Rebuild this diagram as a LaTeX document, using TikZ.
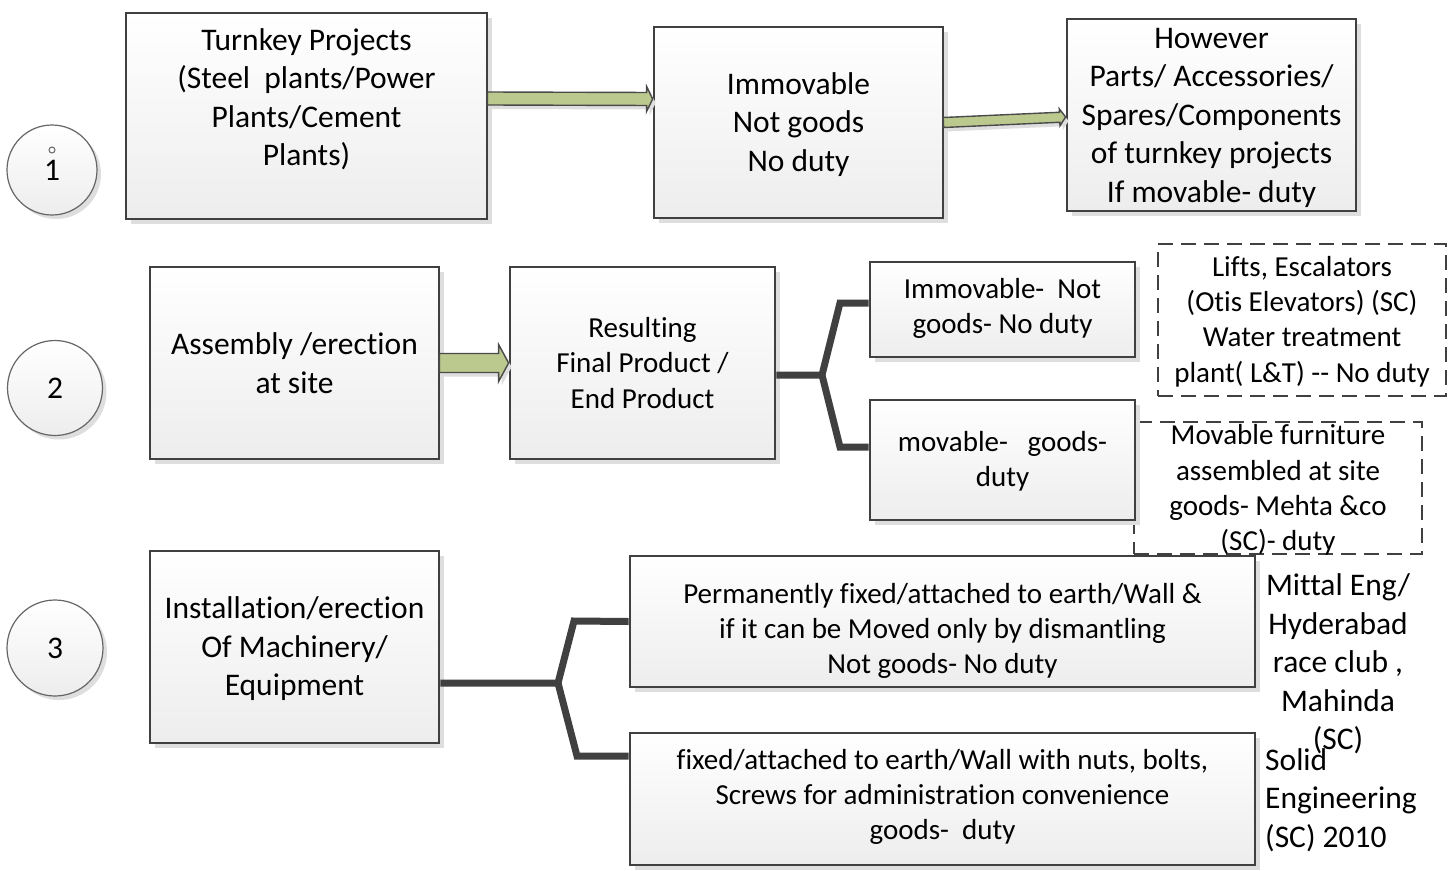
\documentclass[tikz,border=0pt]{standalone}
\usepackage{fontspec}
\setmainfont{Carlito}[Ligatures={NoCommon}]
\usetikzlibrary{calc,shadows}

\definecolor{edge}{HTML}{404040}
\definecolor{boxbot}{HTML}{EDEDED}
\definecolor{shade}{HTML}{DEDEDE}
\definecolor{leaf}{HTML}{BBC98E}
\definecolor{leafline}{HTML}{4A4A4A}

\newcommand\bigtxt{\fontsize{31.5}{38.5}\selectfont}
\newcommand\smalltxt{\fontsize{29}{35.3}\selectfont}

% fat block arrow from #1 to #2: body half-height #3, head half-height #4, head length #5
\newcommand\blockarrow[5]{%
  \coordinate (hb) at ($(#2)!#5pt!(#1)$);
  \draw[fatarrow]
    ($(#1)!#3pt!90:(#2)$) -- ($(hb)!#3pt!90:(#2)$) -- ($(hb)!#4pt!90:(#2)$)
    -- (#2) -- ($(hb)!#4pt!-90:(#2)$) -- ($(hb)!#3pt!-90:(#2)$)
    -- ($(#1)!#3pt!-90:(#2)$) -- cycle;}

% text block set inside box #1, moved down by #2, in font #3
\newcommand\boxtext[4]{%
  \node[txt, font=#3] (#1t) at ($(#1.center)+(0,#2)$) {#4};}

\begin{document}
\begin{tikzpicture}[x=1pt,y=-1pt,
  box/.style={draw=edge, line width=2.8pt, top color=white, bottom color=boxbot,
    drop shadow={shadow xshift=5pt, shadow yshift=-5pt, fill=shade, opacity=1},
    inner sep=0pt},
  dashbox/.style={draw=edge, line width=2pt, dash pattern=on 15pt off 8pt, inner sep=0pt},
  ring/.style={circle, draw=edge!80, line width=1.2pt, top color=white, bottom color=boxbot,
    drop shadow={shadow xshift=4pt, shadow yshift=-4pt, fill=shade, opacity=1},
    font=\bigtxt, inner sep=0pt},
  fatarrow/.style={draw=leafline, line width=1.4pt, fill=leaf, line join=miter,
    drop shadow={shadow xshift=3pt, shadow yshift=-4pt, fill=shade, opacity=1}},
  fork/.style={draw=edge, line width=7pt, line join=miter},
  txt/.style={align=center, inner sep=0pt}]

\useasboundingbox (0,0) rectangle (1450,870);
\fill[white] (0,0) rectangle (1450,870);

% numbered circles
\node[ring, minimum size=90pt] (c1) at (52,170) {1};
\draw[edge!80, line width=1pt] ($(c1.center)+(0,-20)$) circle (3pt);
\node[ring, minimum size=95pt] (c2) at (55,388) {2};
\node[ring, minimum size=96pt] (c3) at (55,648) {3};

% row 1
\node[box, minimum width=361pt, minimum height=206pt] (A) at (306.5,116) {};
\boxtext{A}{-17}{\bigtxt}{Turnkey Projects\\(Steel\ \ plants/Power\\Plants/Cement\\Plants)}
\node[box, minimum width=289pt, minimum height=191pt] (B) at (798.5,122.5) {};
\boxtext{B}{2}{\bigtxt}{Immovable\\Not goods\\No duty}
\node[box, minimum width=289pt, minimum height=192pt] (C) at (1211.5,115) {};
\boxtext{C}{2.5}{\bigtxt}{However\\Parts/ Accessories/\\Spares/Components\\of turnkey projects\\If movable- duty}

\coordinate (a1s) at ($(A.east)+(-1,-17.5)$);
\coordinate (a1e) at ($(B.west)+(0,-23.5)$);
\blockarrow{a1s}{a1e}{6.5}{12.5}{6}
\coordinate (a2s) at ($(B.east)+(-1,0)$);
\coordinate (a2e) at ($(C.west)+(0,2)$);
\blockarrow{a2s}{a2e}{5}{8.5}{6}

% row 2
\node[dashbox, minimum width=288pt, minimum height=132pt] (I) at (1278,488) {};
\boxtext{I}{2}{\smalltxt}{Movable furniture\\assembled at site\\goods- Mehta \&co\\(SC)- duty}
\node[dashbox, minimum width=288pt, minimum height=152pt] (H) at (1302,319.5) {};
\boxtext{H}{2}{\smalltxt}{Lifts, Escalators\\(Otis Elevators) (SC)\\Water treatment\\plant( L\&T) -{}- No duty}

\node[box, minimum width=289pt, minimum height=192pt] (D) at (294.5,363) {};
\boxtext{D}{0}{\bigtxt}{Assembly /erection\\at site}
\node[box, minimum width=265pt, minimum height=192pt] (E) at (642.5,363) {};
\boxtext{E}{0}{\smalltxt}{Resulting\\Final Product /\\End Product}
\node[box, minimum width=265pt, minimum height=95pt] (F) at (1002.5,309.5) {};
\boxtext{F}{-1}{\smalltxt}{Immovable-\ \ Not\\goods- No duty}
\node[box, minimum width=265pt, minimum height=120pt] (G) at (1002.5,460) {};
\boxtext{G}{1}{\smalltxt}{movable-\ \ \ goods-\\duty}

\coordinate (a3s) at ($(D.east)+(-1,0)$);
\coordinate (a3e) at (E.west);
\blockarrow{a3s}{a3e}{9.5}{18.5}{10}

\coordinate (j2) at (822,375);
\coordinate (j2u) at (840,303);
\coordinate (j2d) at (840,447);
\draw[fork] ($(E.east)+(0,12)$) -- (j2) -- (j2u) -- ($(F.west)+(0,-6.5)$);
\draw[fork] (j2) -- (j2d) -- ($(G.west)+(0,-13)$);

% row 3
\node[box, minimum width=289pt, minimum height=192pt] (J) at (294.5,647) {};
\boxtext{J}{2}{\bigtxt}{Installation/erection\\Of Machinery/\\Equipment}
\node[box, minimum width=625pt, minimum height=131pt] (K) at (942.5,621.5) {};
\boxtext{K}{9.5}{\smalltxt}{Permanently fixed/attached to earth/Wall \&\\if it can be Moved only by dismantling\\Not goods- No duty}
\node[box, minimum width=625pt, minimum height=132pt] (L) at (942.5,799) {};
\boxtext{L}{-2}{\smalltxt}{fixed/attached to earth/Wall with nuts, bolts,\\Screws for administration convenience\\goods-\ \ duty}

\coordinate (j3) at (558,683);
\coordinate (j3u) at (574,621);
\coordinate (j3d) at (577,756);
\draw[fork] ($(J.east)+(0,36)$) -- (j3) -- (j3u) -- (K.west);
\draw[fork] (j3) -- (j3d) -- ($(L.west)+(0,-43)$);

% case notes beside row 3
\node[txt, font=\bigtxt] (mittal) at (1338,664)
  {Mittal Eng/\\Hyderabad\\race club ,\\Mahinda\\(SC)};
\node[txt, font=\bigtxt, align=left, anchor=west] (solid) at (1265,800)
  {Solid\\Engineering\\(SC) 2010};

\end{tikzpicture}
\end{document}
